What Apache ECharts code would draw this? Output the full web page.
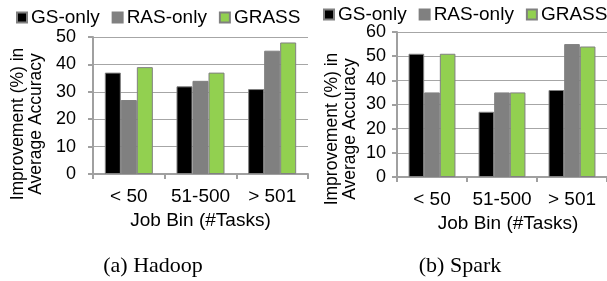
<!DOCTYPE html>
<html>
<head>
<meta charset="utf-8">
<script src="https://cdn.jsdelivr.net/npm/echarts@6/dist/echarts.min.js"></script>
<style>
html, body { margin: 0; padding: 0; background: #fff; }
#main { width: 607px; height: 281px; }
</style>
</head>
<body>
<div id="main"></div>
<script>
var categories = ['< 50', '51-500', '> 501'];
var seriesNames = ['GS-only', 'RAS-only', 'GRASS'];

// (a) Hadoop
var hadoopGS = [37, 32, 31];
var hadoopRAS = [27, 34, 45];
var hadoopGRASS = [39, 37, 48];

// (b) Spark
var sparkGS = [51, 27, 36];
var sparkRAS = [35, 35, 55];
var sparkGRASS = [51, 35, 54];

var colors = ['#000000', '#808080', '#92d050'];
var font = 'Liberation Sans, Arial, sans-serif';
var axisGray = '#a0a0a0';

var myChart = echarts.init(document.getElementById('main'));

function bar(name, data, idx) {
    return {
        name: name,
        type: 'bar',
        xAxisIndex: idx,
        yAxisIndex: idx,
        data: data,
        barGap: '0%',
        barCategoryGap: '33%',
        itemStyle: {
            color: colors[seriesNames.indexOf(name)],
            borderColor: '#808080',
            borderWidth: 1
        }
    };
}

function xAx(idx, gap, pad) {
    return {
        type: 'category',
        gridIndex: idx,
        data: categories,
        name: 'Job Bin (#Tasks)',
        nameLocation: 'middle',
        nameGap: gap,
        nameTextStyle: { color: '#000', fontSize: 19, fontFamily: font, padding: pad },
        axisLine: { lineStyle: { color: axisGray, width: 2 } },
        axisTick: { show: true, length: 5, lineStyle: { color: axisGray, width: 2 } },
        axisLabel: { color: '#000', fontSize: 19, fontFamily: font, margin: 13, interval: 0 },
        splitLine: { show: false }
    };
}

function yAx(idx, max, margin) {
    return {
        type: 'value',
        gridIndex: idx,
        min: 0,
        max: max,
        interval: 10,
        axisLine: { show: true, lineStyle: { color: axisGray, width: 2 } },
        axisTick: { show: true, length: 5, lineStyle: { color: axisGray, width: 2 } },
        axisLabel: { color: '#000', fontSize: 18, fontFamily: font, margin: margin },
        splitLine: { show: true, lineStyle: { color: '#a6a6a6', width: 1 } }
    };
}

var legendStyle = {
    itemWidth: 10,
    itemHeight: 10,
    itemGap: 12,
    padding: 0,
    width: 300,
    icon: 'rect',
    textStyle: { color: '#000', fontSize: 19, fontFamily: font, padding: [0, 0, 0, -1] },
    data: seriesNames
};

var yName = 'Improvement (%) in\nAverage Accuracy';

option = {
    animation: false,
    backgroundColor: '#fff',
    legend: [
        Object.assign({ left: 16, top: 8 }, legendStyle),
        Object.assign({ left: 323, top: 5 }, legendStyle)
    ],
    grid: [
        { left: 93, right: 299, top: 37, bottom: 107 },
        { left: 397, right: -2, top: 32, bottom: 104 }
    ],
    xAxis: [xAx(0, 37, [0, 0, 0, 0]), xAx(1, 35, [0, 0, 0, 12])],
    yAxis: [yAx(0, 50, 17), yAx(1, 60, 11)],
    series: [
        bar('GS-only', hadoopGS, 0),
        bar('RAS-only', hadoopRAS, 0),
        bar('GRASS', hadoopGRASS, 0),
        bar('GS-only', sparkGS, 1),
        bar('RAS-only', sparkRAS, 1),
        bar('GRASS', sparkGRASS, 1)
    ],
    graphic: [
        {
            type: 'text', x: 27, y: 124, rotation: Math.PI / 2,
            style: { text: yName, fill: '#000', font: '17.5px ' + font, align: 'center', verticalAlign: 'middle', lineHeight: 18 }
        },
        {
            type: 'text', x: 341, y: 129, rotation: Math.PI / 2,
            style: { text: yName, fill: '#000', font: '17.5px ' + font, align: 'center', verticalAlign: 'middle', lineHeight: 18 }
        },
        {
            type: 'text', x: 153, y: 266,
            style: { text: '(a) Hadoop', fill: '#000', font: '22px Liberation Serif, Times New Roman, serif', align: 'center', verticalAlign: 'middle' }
        },
        {
            type: 'text', x: 460, y: 266,
            style: { text: '(b) Spark', fill: '#000', font: '22px Liberation Serif, Times New Roman, serif', align: 'center', verticalAlign: 'middle' }
        }
    ]
};

if (option && typeof option === "object") {
    myChart.setOption(option, true);
}
</script>
</body>
</html>
